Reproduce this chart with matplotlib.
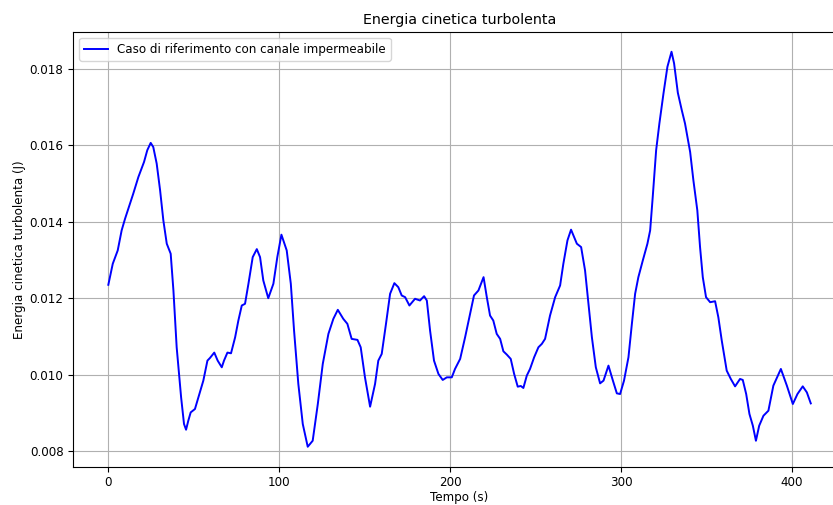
import matplotlib
matplotlib.use("Agg")
import matplotlib.pyplot as plt

tempo = [0, 2.6, 5.5, 7.8, 9.8, 14.6, 17.6, 20.9, 22.8, 24.8, 26.3, 28.3, 30.3, 32.2, 34.2, 36.5,
         38.1, 40.0, 42.6, 44.3, 45.5, 46.8, 48.2, 50.7, 52.7, 55.6, 58.0, 59.5, 62.0, 64.0, 66.4,
         67.7, 69.7, 71.8, 74.2, 76.1, 78.1, 80.0, 82.0, 84.5, 86.9, 88.8, 90.7, 93.6, 96.6, 98.9,
         101.3, 104.4, 106.8, 108.7, 111.2, 113.8, 116.7, 119.6, 122.6, 125.5, 128.8, 131.7, 134.3,
         137.5, 139.9, 142.4, 145.8, 147.7, 150.2, 153.2, 156.1, 158.0, 160.0, 162.5, 164.9, 167.4,
         169.7, 171.7, 173.7, 176.2, 179.5, 182.4, 184.8, 186.4, 188.3, 190.6, 193.2, 195.7, 198.1,
         201.0, 202.9, 205.9, 208.8, 211.7, 214.0, 216.6, 219.6, 221.5, 223.4, 225.3, 227.3, 229.3,
         231.2, 233.2, 235.5, 237.5, 239.6, 241.4, 242.9, 244.9, 246.8, 249.2, 251.7, 253.7, 255.6,
         258.5, 261.5, 264.4, 266.3, 268.7, 270.8, 272.6, 274.2, 276.7, 279.0, 281.0, 283.0, 285.3,
         287.8, 289.8, 292.7, 295.3, 297.6, 299.5, 301.8, 304.4, 306.4, 308.3, 310.2, 312.8, 315.5,
         317.1, 318.6, 320.6, 322.5, 324.9, 327.2, 329.6, 331.1, 333.3, 335.6, 337.5, 340.5, 342.4,
         344.7, 346.3, 347.9, 349.8, 352.2, 355.1, 357.0, 359.0, 361.9, 364.3, 366.8, 369.7, 371.3,
         373.3, 375.2, 377.2, 379.0, 380.9, 383.4, 386.3, 389.2, 393.6, 397.1, 400.6, 403.3, 406.4,
         408.8, 411.1]

energia = [0.012353, 0.012904, 0.013253, 0.013778, 0.014084, 0.014740, 0.015176, 0.015569, 0.015876,
           0.016068, 0.015960, 0.015527, 0.014827, 0.014040, 0.013429, 0.013166, 0.012204, 0.010717,
           0.009406, 0.008708, 0.008559, 0.008795, 0.009012, 0.009101, 0.009406, 0.009844, 0.010368,
           0.010438, 0.010578, 0.010368, 0.010193, 0.010368, 0.010578, 0.010560, 0.010976, 0.011417,
           0.011811, 0.011855, 0.012380, 0.013077, 0.013287, 0.013077, 0.012466, 0.012002, 0.012380,
           0.013077, 0.013665, 0.013253, 0.012380, 0.011155, 0.009757, 0.008708, 0.008113, 0.008270,
           0.009232, 0.010281, 0.011068, 0.011462, 0.011698, 0.011462, 0.011331, 0.010937, 0.010911,
           0.010717, 0.009930, 0.009162, 0.009757, 0.010368, 0.010543, 0.011331, 0.012117, 0.012396,
           0.012291, 0.012073, 0.012029, 0.011811, 0.011987, 0.011942, 0.012055, 0.011942, 0.011155,
           0.010368, 0.010019, 0.009862, 0.009930, 0.009930, 0.010150, 0.010413, 0.010979, 0.011593,
           0.012073, 0.012204, 0.012553, 0.012029, 0.011548, 0.011417, 0.011068, 0.010937, 0.010612,
           0.010526, 0.010413, 0.010019, 0.009686, 0.009704, 0.009652, 0.009975, 0.010150, 0.010455,
           0.010717, 0.010806, 0.010937, 0.011548, 0.012029, 0.012335, 0.012904, 0.013515, 0.013796,
           0.013602, 0.013429, 0.013340, 0.012729, 0.011855, 0.010979, 0.010193, 0.009773, 0.009844,
           0.010237, 0.009844, 0.009511, 0.009493, 0.009844, 0.010455, 0.011330, 0.012117, 0.012553,
           0.012991, 0.013429, 0.013778, 0.014650, 0.015876, 0.016576, 0.017363, 0.018060, 0.018454,
           0.018150, 0.017380, 0.016925, 0.016576, 0.015830, 0.015089, 0.014302, 0.013340, 0.012553,
           0.012029, 0.011897, 0.011923, 0.011504, 0.010893, 0.010106, 0.009888, 0.009694, 0.009888,
           0.009862, 0.009493, 0.008971, 0.008663, 0.008270, 0.008663, 0.008925, 0.009057, 0.009713,
           0.010150, 0.009713, 0.009232, 0.009493, 0.009694, 0.009537, 0.009248]

plt.rcParams['font.size'] = 8.6
fig = plt.figure(figsize=(8.33, 5.05), dpi=100)
ax = fig.add_axes([73.2 / 833, 1 - 466.5 / 505, 772.7 / 833, (466.5 - 32) / 505])
ax.plot(tempo, energia, color='blue', linewidth=1.4,
        label='Caso di riferimento con canale impermeabile')
ax.set_title('Energia cinetica turbolenta', fontsize=10.3)
ax.set_xlabel('Tempo (s)', labelpad=1.5)
ax.set_ylabel('Energia cinetica turbolenta (J)', labelpad=2.5)
ax.grid(True, linewidth=0.8)
ax.legend(loc='upper left')
fig.savefig('out.png', dpi=100)
